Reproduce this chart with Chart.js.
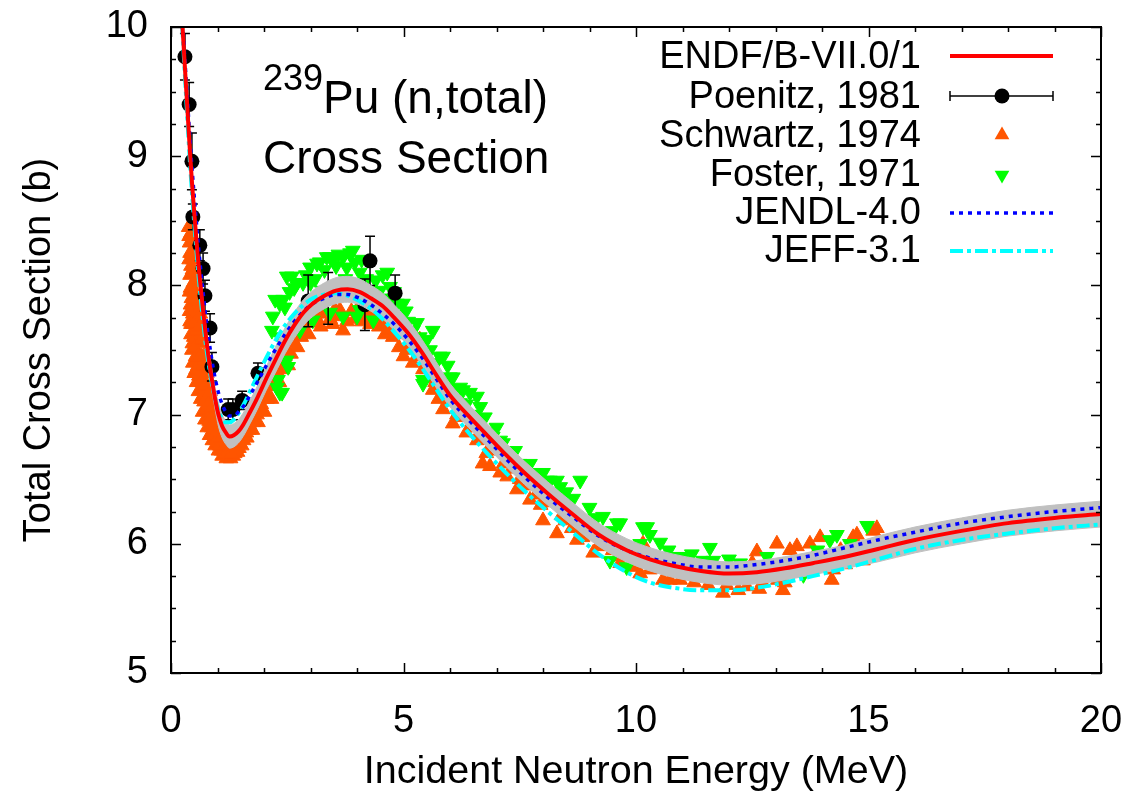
<!DOCTYPE html>
<html><head><meta charset="utf-8">
<script src="https://cdn.jsdelivr.net/npm/chart.js@4.4.1/dist/chart.umd.min.js"></script>
<style>html,body{margin:0;padding:0;background:#fff;}#wrap{width:1132px;height:793px;}</style>
</head><body><div id="wrap"><canvas id="c" width="1132" height="793"></canvas></div>
<script>
const FONT = "'Liberation Sans', Arial, Helvetica, sans-serif";

// ---- axis ticks ----
const xTickStep = 5, xMin = 0, xMax = 20, xMinorStep = 1;
const yTickStep = 1, yMin = 5, yMax = 10, yMinorStep = 0.25;

// ---- evaluated curves (MeV, barns) ----
const energy = [0.24,0.30,0.36,0.41,0.46,0.52,0.57,0.62,0.68,0.74,
  0.81,0.88,0.95,1.02,1.10,1.18,1.26,1.35,1.45,1.55,
  1.70,1.87,2.05,2.24,2.45,2.65,2.85,3.05,3.30,3.55,
  3.80,4.05,4.30,4.55,4.80,5.10,5.40,5.70,6.00,6.40,
  6.80,7.20,7.60,8.10,8.60,9.20,9.80,10.3,10.8,11.4,
  12.0,12.6,13.2,13.8,14.5,15.2,16.0,17.0,18.0,19.0,20.0];
const endf = [10.05,9.68,9.32,9.02,8.75,8.47,8.25,8.05,7.84,7.64,
  7.44,7.27,7.12,7.00,6.91,6.86,6.83,6.84,6.87,6.92,
  7.02,7.14,7.28,7.42,7.57,7.69,7.79,7.86,7.92,7.96,
  7.97,7.95,7.90,7.84,7.75,7.63,7.48,7.31,7.15,6.99,
  6.84,6.69,6.55,6.39,6.24,6.07,5.95,5.88,5.83,5.79,
  5.77,5.78,5.81,5.85,5.90,5.96,6.03,6.10,6.16,6.20,6.23];
const endfUnc = [0.08,0.08,0.08,0.08,0.08,0.08,0.08,0.08,0.08,0.08,
  0.08,0.08,0.08,0.09,0.09,0.09,0.09,0.09,0.09,0.09,
  0.09,0.09,0.09,0.10,0.10,0.10,0.10,0.10,0.10,0.10,
  0.10,0.10,0.10,0.10,0.10,0.10,0.10,0.10,0.09,0.09,
  0.09,0.09,0.09,0.09,0.09,0.09,0.09,0.09,0.09,0.09,
  0.09,0.09,0.09,0.09,0.09,0.10,0.10,0.10,0.10,0.10,0.10];
const jendl = [10.10,9.74,9.40,9.12,8.87,8.60,8.39,8.19,7.98,7.78,
  7.59,7.42,7.28,7.17,7.08,7.02,6.99,6.99,7.02,7.06,
  7.15,7.26,7.38,7.50,7.62,7.72,7.80,7.86,7.90,7.93,
  7.93,7.90,7.85,7.78,7.70,7.58,7.44,7.28,7.12,6.96,
  6.81,6.66,6.52,6.36,6.22,6.06,5.95,5.89,5.85,5.82,
  5.82,5.84,5.87,5.91,5.97,6.03,6.09,6.16,6.21,6.25,6.28];
const jeff = [10.02,9.62,9.24,8.94,8.67,8.39,8.17,7.97,7.76,7.57,
  7.39,7.24,7.12,7.03,6.97,6.94,6.94,6.96,7.01,7.07,
  7.18,7.31,7.44,7.57,7.69,7.78,7.85,7.90,7.93,7.94,
  7.92,7.88,7.82,7.74,7.64,7.51,7.36,7.20,7.04,6.86,
  6.70,6.55,6.41,6.25,6.10,5.92,5.78,5.70,5.66,5.64,
  5.64,5.66,5.70,5.75,5.81,5.88,5.96,6.03,6.08,6.12,6.15];

// ---- experimental data ----
const poenitzE = [0.30,0.39,0.45,0.47,0.62,0.69,0.73,0.84,0.88,1.23,1.33,1.53,1.87,2.95,3.38,4.17,4.28,4.82];
const poenitzXS = [9.77,9.40,8.96,8.53,8.31,8.13,7.92,7.67,7.37,7.04,7.04,7.11,7.32,7.88,7.90,7.85,8.19,7.94];
const poenitzErr = [0.18,0.17,0.22,0.10,0.12,0.12,0.12,0.11,0.11,0.08,0.08,0.07,0.08,0.20,0.20,0.20,0.19,0.14];

const schwartzE = [0.38,0.39,0.40,0.40,0.41,0.41,0.42,0.42,0.43,0.43,
  0.44,0.45,0.45,0.46,0.47,0.47,0.48,0.49,0.50,0.50,
  0.52,0.52,0.53,0.54,0.55,0.56,0.57,0.58,0.59,0.60,
  0.62,0.63,0.64,0.66,0.67,0.68,0.70,0.71,0.73,0.74,
  0.76,0.78,0.79,0.81,0.83,0.85,0.87,0.89,0.91,0.93,
  0.95,0.98,1.00,1.02,1.05,1.08,1.10,1.13,1.16,1.19,
  1.22,1.25,1.28,1.31,1.34,1.37,1.40,1.43,1.46,1.49,
  1.52,1.56,1.60,1.63,1.67,1.71,1.75,1.79,1.83,1.87,
  1.92,1.96,2.01,2.06,2.11,2.16,2.22,2.27,2.33,2.39,
  2.45,2.52,2.58,2.64,2.72,2.80,2.88,2.96,3.05,3.14,
  3.22,3.32,3.42,3.52,3.63,3.70,3.78,3.88,4.00,4.10,
  4.20,4.35,4.47,4.60,4.77,4.90,5.07,5.20,5.35,5.42,
  5.55,5.63,5.75,5.85,6.06,6.20,6.35,6.58,6.70,6.86,
  6.95,7.08,7.23,7.35,7.44,7.60,7.72,7.85,8.00,8.15,
  8.30,8.48,8.62,8.73,8.90,9.08,9.25,9.44,9.60,9.66,
  9.80,9.95,10.09,10.15,10.30,10.45,10.58,10.67,10.73,10.95,
  11.10,11.25,11.38,11.55,11.70,11.87,12.00,12.09,12.25,12.38,
  12.50,12.60,12.72,12.85,13.03,13.05,13.16,13.31,13.40,13.46,
  13.60,13.74,13.85,13.96,14.10,14.21,14.24,14.40,14.50,14.67,
  14.75,14.88,14.97,15.10,15.18,
  0.39,0.40,0.41,0.42,0.43,0.44,0.44,0.46,0.47,0.48,
  0.49,0.51,0.51,0.53,0.54,0.55,0.56,0.57,0.58,0.60,
  0.61,0.62,0.63,0.65,0.66,0.68,0.69,0.71,0.72,0.75,
  0.77,0.80,0.82,0.84,0.88,0.90,0.94,0.97,1.00,1.04,
  1.07,1.12,1.15,1.18,1.24,1.30,1.36,1.42,1.48,1.55,
  1.62,1.69,1.77,1.85,1.94,2.04,2.14,2.25,2.36,2.48,
  2.62,2.76,2.92,3.10,3.28,3.48,3.58,3.95,4.15,4.28,
  4.55,4.68,4.85,5.00,5.12,5.30,5.50,5.68,5.95,6.15,
  6.45,6.62,6.78,7.15,7.50,7.95,8.40,8.85,9.20,9.50,
  10.0,10.85,11.5,11.95,12.2,12.65,13.2];
const schwartzXS = [8.45,8.20,8.33,7.95,8.08,7.72,8.40,7.85,8.15,7.62,
  8.25,7.98,7.50,8.12,7.78,7.40,8.02,7.60,7.88,7.32,
  7.95,7.70,7.45,7.82,7.25,7.58,7.72,7.38,7.18,7.55,
  7.62,7.30,7.12,7.45,7.20,7.02,7.35,7.10,6.96,7.25,
  7.04,6.90,7.15,6.98,6.84,7.06,6.90,6.80,6.98,6.84,
  6.76,6.90,6.78,6.72,6.84,6.72,6.68,6.79,6.70,6.66,
  6.76,6.68,6.66,6.74,6.68,6.70,6.77,6.71,6.74,6.82,
  6.76,6.80,6.90,6.82,6.88,6.98,6.88,6.96,7.06,6.94,
  7.03,7.14,7.02,7.12,7.24,7.12,7.22,7.34,7.25,7.35,
  7.45,7.38,7.47,7.56,7.52,7.60,7.66,7.62,7.71,7.74,
  7.68,7.78,7.74,7.81,7.81,7.65,7.72,7.80,7.81,7.72,
  7.76,7.77,7.68,7.62,7.60,7.52,7.50,7.40,7.58,7.35,
  7.28,7.19,7.12,7.04,6.93,6.98,6.86,6.80,6.62,6.60,
  6.72,6.55,6.52,6.58,6.42,6.45,6.34,6.38,6.18,6.32,
  6.08,6.18,6.12,6.03,6.10,5.93,6.02,6.05,5.90,5.85,
  5.95,5.82,5.77,6.00,5.80,5.85,5.72,5.90,5.72,5.72,
  5.80,5.70,5.82,5.68,5.74,5.62,5.78,5.72,5.78,5.67,
  5.85,5.94,5.70,5.78,6.00,5.72,5.64,5.95,5.80,5.98,
  5.85,6.00,5.92,6.05,5.88,5.72,5.80,5.95,5.84,6.05,
  6.07,5.87,5.90,6.10,6.12,
  8.38,7.80,8.25,7.98,7.70,7.90,8.38,7.55,8.20,7.70,
  7.95,7.52,8.10,7.88,7.35,7.65,7.90,7.45,7.80,7.30,
  7.68,7.45,7.78,7.25,7.58,7.38,7.15,7.45,7.22,7.12,
  7.32,7.08,6.95,7.18,7.05,6.88,6.96,6.80,6.88,6.76,
  6.82,6.72,6.76,6.70,6.72,6.70,6.74,6.74,6.78,6.84,
  6.86,6.92,6.94,7.00,7.08,7.18,7.28,7.28,7.42,7.50,
  7.62,7.68,7.72,7.78,7.82,7.70,7.76,7.74,7.82,7.70,
  7.70,7.66,7.62,7.45,7.55,7.45,7.35,7.25,7.10,7.00,
  6.90,6.85,6.70,6.62,6.50,6.30,6.22,6.05,5.98,5.95,
  5.88,5.80,5.75,5.68,5.64,5.65,5.70];

const fosterE = [2.17,2.19,2.24,2.28,2.30,2.34,2.34,2.34,2.39,2.39,
  2.41,2.45,2.49,2.49,2.52,2.60,2.71,2.77,2.84,2.99,
  3.05,3.14,3.20,3.27,3.42,3.42,3.48,3.70,3.70,3.78,
  3.85,3.91,4.00,4.06,4.06,4.35,4.49,4.65,4.71,4.86,
  4.99,5.20,5.29,5.42,5.42,5.57,5.63,5.78,5.85,6.00,
  6.06,6.22,6.22,6.28,6.43,6.58,6.65,6.86,6.92,7.08,
  7.14,7.29,7.50,7.72,8.09,8.15,8.30,8.37,8.80,9.29,
  9.44,9.59,9.66,9.80,10.09,10.15,10.24,10.30,10.52,10.88,
  11.00,11.44,11.59,11.66,12.24,12.82,13.60,14.17,14.32,14.97,
  2.55,2.65,2.90,3.00,3.10,3.30,3.35,3.55,3.60,3.75,
  3.95,4.10,4.20,4.40,4.55,4.60,4.80,5.05,5.10,5.35,
  5.50,5.70,5.95,6.10,6.35,6.50,6.75,7.00,7.20,7.40,
  7.60,7.85,8.00,8.50,8.65,9.00,9.15,9.50,10.70,11.20,
  12.00,12.50,13.20,13.90,14.60];
const fosterXS = [7.65,7.76,7.89,7.21,7.27,7.60,7.17,7.86,7.58,7.17,
  7.89,7.83,7.42,8.07,7.37,8.07,8.02,7.65,8.02,8.14,
  7.73,8.17,8.18,7.96,8.22,7.79,8.20,8.22,7.76,8.14,
  8.25,8.27,7.76,8.10,7.81,7.73,7.96,8.10,7.99,7.86,
  7.86,7.65,7.71,7.24,7.27,7.50,7.65,7.45,7.45,7.29,
  7.29,7.21,7.09,7.19,7.17,7.14,7.06,6.86,6.83,6.80,
  6.78,6.70,6.62,6.62,6.49,6.49,6.49,6.44,6.49,6.21,
  5.87,6.16,6.16,5.82,6.00,6.13,6.13,6.07,6.01,5.90,
  5.90,5.87,5.97,5.87,5.85,5.90,5.76,6.03,6.07,6.14,
  7.95,7.98,8.08,8.02,8.05,8.12,8.22,8.15,8.24,8.05,
  8.18,8.20,8.05,8.04,8.08,7.90,7.95,7.80,7.72,7.60,
  7.58,7.40,7.38,7.20,7.08,7.00,6.98,6.90,6.72,6.72,
  6.60,6.55,6.55,6.40,6.35,6.28,6.20,6.10,5.95,5.92,
  5.88,5.80,5.82,5.95,6.00];

const legendLabels = ['ENDF/B-VII.0/1','Poenitz, 1981','Schwartz, 1974','Foster, 1971','JENDL-4.0','JEFF-3.1'];
const xTitle = 'Incident Neutron Energy (MeV)';
const yTitle = 'Total Cross Section (b)';

// ---- colours ----
const C_ENDF = '#ff0000', C_JENDL = '#0000ff', C_JEFF = '#00ffff', C_BAND = '#c0c0c0';
const C_SCH = '#ff5500', C_FOS = '#00ff00';

const pts = (xs, ys) => xs.map((x, i) => ({x, y: ys[i]}));
const curveBase = {showLine: true, pointRadius: 0, fill: false, cubicInterpolationMode: 'monotone'};

const datasets = [
  Object.assign({}, curveBase, {label: legendLabels[0], data: pts(energy, endf), borderColor: C_ENDF, borderWidth: 4, order: 0}),
  Object.assign({}, curveBase, {label: legendLabels[4], data: pts(energy, jendl), borderColor: C_JENDL, borderWidth: 3.5, borderDash: [4, 5], order: 1}),
  Object.assign({}, curveBase, {label: legendLabels[5], data: pts(energy, jeff), borderColor: C_JEFF, borderWidth: 4, borderDash: [13, 4, 4, 4], order: 2}),
  Object.assign({}, curveBase, {label: 'bandHi', data: pts(energy, endf.map((v, i) => v + endfUnc[i])), borderColor: C_BAND, borderWidth: 1, backgroundColor: C_BAND, fill: '+1', order: 3}),
  Object.assign({}, curveBase, {label: 'bandLo', data: pts(energy, endf.map((v, i) => v - endfUnc[i])), borderColor: C_BAND, borderWidth: 1, order: 4}),
  {label: legendLabels[1], data: pts(poenitzE, poenitzXS), showLine: false, pointStyle: 'circle', pointRadius: 7.5, backgroundColor: '#000', borderColor: '#000', borderWidth: 0, order: 5},
  {label: legendLabels[3], data: pts(fosterE, fosterXS), showLine: false, pointStyle: 'triangle', rotation: 180, pointRadius: 8.5, backgroundColor: C_FOS, borderColor: C_FOS, borderWidth: 1, order: 6},
  {label: legendLabels[2], data: pts(schwartzE, schwartzXS), showLine: false, pointStyle: 'triangle', pointRadius: 8.5, backgroundColor: C_SCH, borderColor: C_SCH, borderWidth: 1, order: 7}
];

// error bars for Poenitz
const errorBars = {
  id: 'errorBars',
  afterDatasetDraw(chart, args) {
    const ds = chart.data.datasets[args.index];
    if (ds.label !== legendLabels[1]) return;
    const {ctx, scales: {x, y}, chartArea: a} = chart;
    ctx.save();
    ctx.beginPath(); ctx.rect(a.left, a.top, a.right - a.left, a.bottom - a.top); ctx.clip();
    ctx.strokeStyle = '#000'; ctx.lineWidth = 1.5;
    poenitzE.forEach((e, i) => {
      const px = x.getPixelForValue(e);
      const y1 = y.getPixelForValue(poenitzXS[i] + poenitzErr[i]);
      const y2 = y.getPixelForValue(poenitzXS[i] - poenitzErr[i]);
      ctx.beginPath();
      ctx.moveTo(px, y1); ctx.lineTo(px, y2);
      ctx.moveTo(px - 5, y1); ctx.lineTo(px + 5, y1);
      ctx.moveTo(px - 5, y2); ctx.lineTo(px + 5, y2);
      ctx.stroke();
    });
    ctx.restore();
  }
};

// frame with inward ticks on all four sides
const frame = {
  id: 'frame',
  afterDatasetsDraw(chart) {
    const {ctx, scales: {x, y}, chartArea: a} = chart;
    ctx.save();
    ctx.strokeStyle = '#000';
    ctx.lineWidth = 1.5;
    ctx.beginPath();
    for (let v = xMin; v <= xMax + 1e-9; v += xMinorStep) {
      const px = Math.round(x.getPixelForValue(v)) + 0.5;
      const major = Math.abs(v / xTickStep - Math.round(v / xTickStep)) < 1e-6;
      const len = major ? 10 : 5;
      ctx.moveTo(px, a.bottom); ctx.lineTo(px, a.bottom - len);
      ctx.moveTo(px, a.top); ctx.lineTo(px, a.top + len);
    }
    for (let v = yMin; v <= yMax + 1e-9; v += yMinorStep) {
      const py = Math.round(y.getPixelForValue(v)) + 0.5;
      const major = Math.abs(v / yTickStep - Math.round(v / yTickStep)) < 1e-6;
      const len = major ? 10 : 5;
      ctx.moveTo(a.left, py); ctx.lineTo(a.left + len, py);
      ctx.moveTo(a.right, py); ctx.lineTo(a.right - len, py);
    }
    ctx.stroke();
    ctx.lineWidth = 2;
    ctx.strokeRect(a.left, a.top, a.right - a.left, a.bottom - a.top);
    ctx.restore();
  }
};

// legend + annotation
const overlay = {
  id: 'overlay',
  afterDraw(chart) {
    const ctx = chart.ctx;
    ctx.save();
    ctx.fillStyle = '#000';
    ctx.textAlign = 'left'; ctx.textBaseline = 'alphabetic';
    ctx.font = '36px ' + FONT; ctx.fillText('239', 263, 90);
    ctx.font = '46px ' + FONT; ctx.fillText('Pu (n,total)', 323, 113);
    ctx.fillText('Cross Section', 263, 173);
    const base = [68, 108, 147, 186, 224, 262];
    const mid = [56, 96, 135, 175, 213, 251];
    ctx.font = '38px ' + FONT; ctx.textAlign = 'right';
    legendLabels.forEach((t, i) => ctx.fillText(t, 921, base[i]));
    const x0 = 950, x1 = 1053, xm = 1002;
    const seg = (y, color, w, dash) => {
      ctx.beginPath(); ctx.setLineDash(dash || []); ctx.strokeStyle = color; ctx.lineWidth = w;
      ctx.moveTo(x0, y); ctx.lineTo(x1, y); ctx.stroke(); ctx.setLineDash([]);
    };
    seg(mid[0], C_ENDF, 4);
    seg(mid[1], '#000', 1.5);
    ctx.beginPath(); ctx.strokeStyle = '#000'; ctx.lineWidth = 1.5;
    ctx.moveTo(x0, mid[1] - 5); ctx.lineTo(x0, mid[1] + 5);
    ctx.moveTo(x1, mid[1] - 5); ctx.lineTo(x1, mid[1] + 5); ctx.stroke();
    ctx.beginPath(); ctx.fillStyle = '#000'; ctx.arc(xm, mid[1], 7.5, 0, Math.PI * 2); ctx.fill();
    const tri = (y, color, down) => {
      const r = 8.5, s = down ? -1 : 1;
      ctx.beginPath(); ctx.fillStyle = color;
      ctx.moveTo(xm, y - s * r);
      ctx.lineTo(xm + r * 0.866, y + s * r * 0.5);
      ctx.lineTo(xm - r * 0.866, y + s * r * 0.5);
      ctx.closePath(); ctx.fill();
    };
    tri(mid[2], C_SCH, false);
    tri(mid[3], C_FOS, true);
    seg(mid[4], C_JENDL, 3.5, [4, 5]);
    seg(mid[5], C_JEFF, 4, [13, 4, 4, 4]);
    ctx.restore();
  }
};

new Chart(document.getElementById('c'), {
  type: 'scatter',
  data: {datasets},
  options: {
    responsive: false, maintainAspectRatio: false, animation: false, devicePixelRatio: 1, events: [],
    layout: {padding: {top: 27, right: 31, left: 0, bottom: 0}},
    plugins: {legend: {display: false}, tooltip: {enabled: false}},
    scales: {
      x: {
        type: 'linear', min: xMin, max: xMax,
        grid: {display: false, drawTicks: false}, border: {display: false},
        ticks: {stepSize: xTickStep, padding: 26, color: '#000', font: {family: FONT, size: 38}, maxRotation: 0},
        title: {display: true, text: xTitle, color: '#000', font: {family: FONT, size: 39.5, lineHeight: 1.05}, padding: {top: 0, bottom: 0}},
        afterFit(s) { s.height = 120; s.paddingLeft = 0; s.paddingRight = 0; }
      },
      y: {
        type: 'linear', min: yMin, max: yMax,
        grid: {display: false, drawTicks: false}, border: {display: false},
        ticks: {stepSize: yTickStep, padding: 23, color: '#000', font: {family: FONT, size: 38}},
        title: {display: true, text: yTitle, color: '#000', font: {family: FONT, size: 38}, padding: {top: 17, bottom: 0}},
        afterFit(s) { s.width = 171; s.paddingTop = 0; s.paddingBottom = 0; }
      }
    }
  },
  plugins: [errorBars, frame, overlay]
});
</script>
</body></html>
